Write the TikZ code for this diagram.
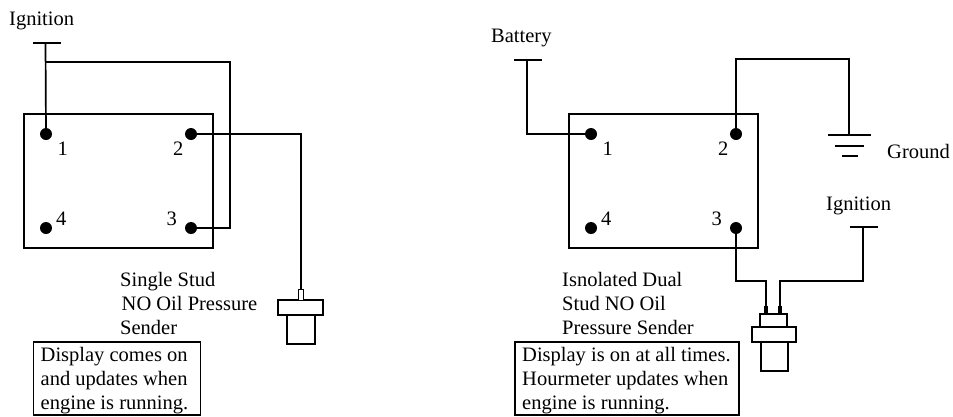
\documentclass[tikz,border=0pt]{standalone}
\usepackage{fontspec}
\setmainfont{Liberation Serif}
\tikzset{
    wire/.style={line width=1.7pt},
    boardbox/.style={draw, line width=1.6pt, minimum width=189pt, minimum height=134pt, inner sep=0pt},
    pin/.style={circle, fill=black, minimum size=12pt, inner sep=0pt},
    part/.style={draw, line width=1.6pt, fill=white, inner sep=0pt},
    lbl/.style={anchor=base west, inner sep=0pt, font=\fontsize{20.5}{24}\selectfont},
    note/.style={anchor=north west, inner sep=0pt, align=left, font=\fontsize{20.5}{24}\selectfont},
    notebox/.style={draw, line width=1.6pt, inner sep=0pt}
}

\begin{document}
\begin{tikzpicture}[x=1pt, y=-1pt]
    \useasboundingbox (0,0) rectangle (953,416);

    % Draw the two boards
    \node[boardbox] (BoardL) at (118.5,181) {};
    \node[boardbox] (BoardR) at (663.5,181) {};

    % Pins on both boards
    \foreach \i/\x/\y in {1/46/134, 2/191/134, 3/191/228, 4/46/228} {
        \node[pin] (PinL\i) at (\x,\y) {};
        \node[pin] (PinR\i) at (\x+545,\y) {};
    }

    % Pin numbers
    \node[lbl] (NumL1) at (57.5,155) {1};
    \node[lbl] (NumL2) at (173,155) {2};
    \node[lbl] (NumL3) at (166.5,225.5) {3};
    \node[lbl] (NumL4) at (56,225.5) {4};
    \node[lbl] (NumR1) at (602.5,155) {1};
    \node[lbl] (NumR2) at (718,155) {2};
    \node[lbl] (NumR3) at (711.5,225.5) {3};
    \node[lbl] (NumR4) at (601,225.5) {4};

    % Left side: ignition and single stud sender
    \node[lbl] (IgnitionL) at (9,25) {Ignition};
    \coordinate (BarLa) at (33,43);
    \coordinate (BarLb) at (61,43);
    \coordinate (StemL) at (45.5,43);
    \coordinate (TapL) at (45.5,62);
    \coordinate (CornerL) at (230,62);
    \draw[wire] (BarLa) -- (BarLb);
    \draw[wire] (StemL) -- (PinL1);
    \draw[wire] (TapL) -- (CornerL) -- (PinL3 -| CornerL) -- (PinL3);

    \node[part, minimum width=45pt, minimum height=15pt] (FlangeL) at (300.5,307.5) {};
    \node[part, minimum width=5pt, minimum height=11pt] (TabL) at (301,295) {};
    \node[part, minimum width=28pt, minimum height=29pt] (BodyL) at (301,329.5) {};
    \draw[wire] (PinL2) -| (TabL.north);

    \node[note] (SenderTextL) at (120,272) {Single Stud\\\hspace*{1.5pt}NO Oil Pressure\\Sender};
    \node[notebox, minimum width=167pt, minimum height=73pt] (NoteBoxL) at (117,378.5) {};
    \node[note] (NoteL) at (40.5,347) {Display comes on\\and updates when\\engine is running.};

    % Right side: battery, ground, ignition and dual stud sender
    \node[lbl] (Battery) at (491,42.5) {Battery};
    \coordinate (BarRa) at (514,60);
    \coordinate (BarRb) at (542,60);
    \coordinate (StemR) at (527,60);
    \draw[wire] (BarRa) -- (BarRb);
    \draw[wire] (StemR) |- (PinR1);

    \coordinate (GndTop) at (849,135);
    \coordinate (GndCorner) at (736,59);
    \draw[wire] (PinR2) -- (GndCorner) -| (GndTop);
    \coordinate (GndAa) at (828,135);
    \coordinate (GndAb) at (871,135);
    \coordinate (GndBa) at (835,146);
    \coordinate (GndBb) at (863.5,146);
    \coordinate (GndCa) at (842,156);
    \coordinate (GndCb) at (858,156);
    \draw[wire] (GndAa) -- (GndAb);
    \draw[wire] (GndBa) -- (GndBb);
    \draw[wire] (GndCa) -- (GndCb);
    \node[lbl] (Ground) at (887,158) {Ground};

    \node[lbl] (IgnitionR) at (826,210) {Ignition};
    \coordinate (BarRc) at (850,227);
    \coordinate (BarRd) at (878,227);
    \coordinate (StemRb) at (863,227);
    \draw[wire] (BarRc) -- (BarRd);

    \node[part, minimum width=27pt, minimum height=13pt] (NeckR) at (773.5,320.5) {};
    \node[part, minimum width=44pt, minimum height=15pt] (FlangeR) at (774,334.5) {};
    \node[part, minimum width=27pt, minimum height=29pt] (BodyR) at (774.5,356.5) {};
    \coordinate (TermRa) at (766,314);
    \coordinate (TermRb) at (780,314);
    \coordinate (BendRa) at (766,281);
    \coordinate (BendRb) at (780,281);
    \draw[wire] (PinR3) |- (BendRa) -- (TermRa);
    \draw[wire] (StemRb) |- (BendRb) -- (TermRb);
    \draw[line width=3.5pt] (TermRa) -- ++(0,-8);
    \draw[line width=3.5pt] (TermRb) -- ++(0,-8);

    \node[note] (SenderTextR) at (562,272) {Isnolated Dual\\Stud NO Oil\\Pressure Sender};
    \node[notebox, minimum width=224pt, minimum height=73pt] (NoteBoxR) at (627,378.5) {};
    \node[note] (NoteR) at (522,347) {Display is on at all times.\\Hourmeter updates when\\engine is running.};
\end{tikzpicture}
\end{document}
